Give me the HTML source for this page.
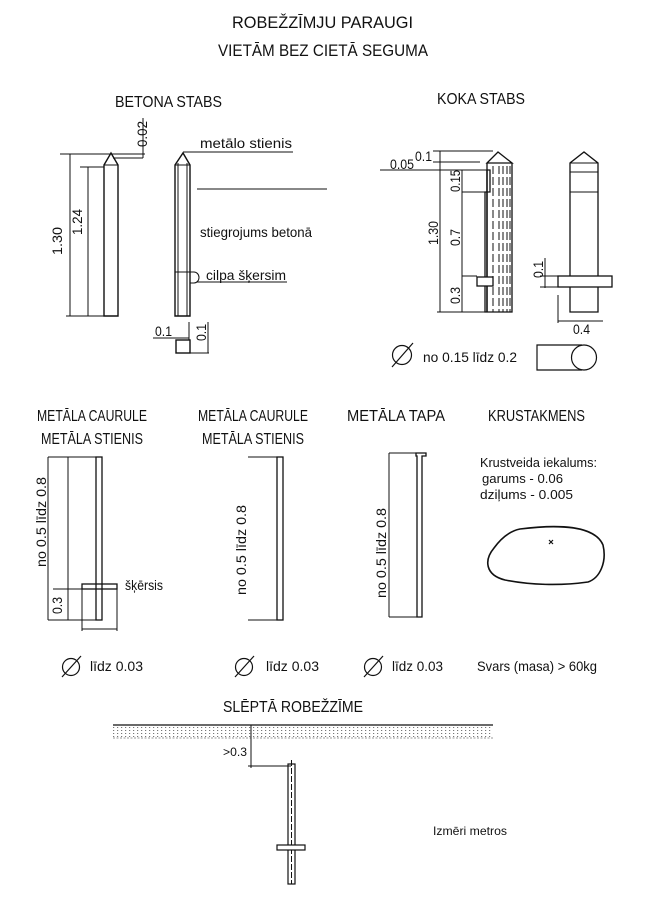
<!DOCTYPE html>
<html><head><meta charset="utf-8"><style>
html,body{margin:0;padding:0;background:#fff;}
svg{display:block;}
text{font-family:"Liberation Sans Narrow","Liberation Sans",sans-serif;fill:#111;}
</style></head><body>
<svg width="645" height="897" viewBox="0 0 645 897" xmlns="http://www.w3.org/2000/svg">
<defs>
<pattern id="dots" width="4" height="3" patternUnits="userSpaceOnUse"><rect x="1" y="1" width="1.2" height="1" fill="#777"/></pattern>
</defs>
<text x="232" y="28" font-size="17" textLength="181" lengthAdjust="spacingAndGlyphs">ROBEŽZĪMJU PARAUGI</text>
<text x="218" y="56" font-size="17" textLength="210" lengthAdjust="spacingAndGlyphs">VIETĀM BEZ CIETĀ SEGUMA</text>
<text x="115" y="107" font-size="16" textLength="107" lengthAdjust="spacingAndGlyphs">BETONA STABS</text>
<text x="437" y="104" font-size="16" textLength="88" lengthAdjust="spacingAndGlyphs">KOKA STABS</text>

<g stroke="#111" fill="none" stroke-width="1">
<path d="M104,316 L104,165 L111,153 L118,165 L118,316 Z" stroke-width="1.4"/>
<line x1="104" y1="165" x2="118" y2="165"/>
<line x1="60" y1="154" x2="145" y2="154"/>
<line x1="80" y1="167" x2="104" y2="167"/>
<line x1="113" y1="158" x2="143" y2="158"/>
<line x1="143" y1="118" x2="143" y2="158"/>
<line x1="70" y1="154" x2="70" y2="316"/>
<line x1="88" y1="167" x2="88" y2="316"/>
<line x1="66" y1="316" x2="104" y2="316"/>
<path d="M175,316 L175,165 L183,153 L190,165 L190,316 Z" stroke-width="1.4"/>
<line x1="178" y1="163" x2="178" y2="316"/>
<line x1="187" y1="163" x2="187" y2="316"/>
<line x1="175" y1="165" x2="190" y2="165"/>
<line x1="183" y1="152" x2="293" y2="152"/>
<line x1="197" y1="189" x2="327" y2="189"/>
<line x1="175" y1="272" x2="193" y2="272"/>
<path d="M190,272 L194,272 A5,5.5 0 0 1 194,283 L190,283"/>
<line x1="197" y1="282" x2="287" y2="282"/>
<rect x="176" y="340" width="14" height="13" stroke-width="1.4"/>
<line x1="153" y1="338" x2="189" y2="338"/>
<line x1="189" y1="322" x2="189" y2="340"/>
<line x1="190" y1="353" x2="209" y2="353"/>
<line x1="208" y1="322" x2="208" y2="353"/>

<path d="M487,163 L498,152 L512,163 Z" stroke-width="1.3"/>
<path d="M487,163 L487,170 L490,170 L490,192 L485,192 L485,312 L512,312 L512,163" stroke-width="1.3"/>
<line x1="487" y1="170" x2="487" y2="312" stroke-width="1.6"/>
<g stroke-dasharray="8,3">
<line x1="493" y1="166" x2="493" y2="312"/>
<line x1="499" y1="166" x2="499" y2="312"/>
<line x1="503" y1="166" x2="503" y2="312"/>
<line x1="507" y1="166" x2="507" y2="312"/>
<line x1="510" y1="166" x2="510" y2="312"/>
</g>
<rect x="477" y="277" width="16" height="9" fill="#fff" stroke-width="1.3"/>
<line x1="433" y1="151" x2="493" y2="151"/>
<line x1="440" y1="151" x2="440" y2="312"/>
<line x1="437" y1="312" x2="487" y2="312"/>
<line x1="433" y1="162" x2="480" y2="162"/>
<line x1="380" y1="170" x2="487" y2="170"/>
<line x1="462" y1="170" x2="462" y2="312"/>
<line x1="462" y1="192" x2="485" y2="192"/>
<line x1="462" y1="276" x2="477" y2="276"/>
<path d="M570,276 L570,163 L584,152 L598,163 L598,276" stroke-width="1.3"/>
<line x1="570" y1="163" x2="598" y2="163"/>
<line x1="570" y1="172" x2="598" y2="172"/>
<line x1="570" y1="192" x2="598" y2="192"/>
<rect x="558" y="276" width="54" height="11" stroke-width="1.3"/>
<path d="M570,287 L570,312 L598,312 L598,287" stroke-width="1.3"/>
<line x1="545" y1="258" x2="545" y2="288"/>
<line x1="540" y1="276" x2="558" y2="276"/>
<line x1="540" y1="287" x2="558" y2="287"/>
<line x1="558" y1="295" x2="558" y2="323"/>
<line x1="558" y1="321" x2="603" y2="321"/>
<circle cx="402" cy="355" r="9.5" stroke-width="1.2"/>
<line x1="392" y1="367" x2="413" y2="343" stroke-width="1.2"/>
<path d="M582,345 L537,345 L537,370 L582,370" stroke-width="1.2"/>
<circle cx="584" cy="357.5" r="12.5" stroke-width="1.2"/>

<rect x="96" y="457" width="6" height="163" stroke-width="1.3"/>
<line x1="48" y1="457" x2="48" y2="620"/>
<line x1="68" y1="457" x2="68" y2="620"/>
<line x1="48" y1="457" x2="96" y2="457"/>
<line x1="48" y1="620" x2="96" y2="620"/>
<rect x="82" y="584" width="35" height="5" stroke-width="1.3"/>
<line x1="53" y1="589" x2="82" y2="589"/>
<line x1="82" y1="589" x2="82" y2="631"/>
<line x1="117" y1="589" x2="117" y2="631"/>
<line x1="82" y1="629" x2="117" y2="629"/>
<circle cx="71" cy="667" r="8.5" stroke-width="1.2"/>
<line x1="62" y1="677" x2="81" y2="656" stroke-width="1.2"/>
<rect x="277" y="457" width="6" height="163" stroke-width="1.3"/>
<line x1="248" y1="457" x2="277" y2="457"/>
<line x1="248" y1="620" x2="277" y2="620"/>
<circle cx="244" cy="667" r="8.5" stroke-width="1.2"/>
<line x1="235" y1="677" x2="254" y2="656" stroke-width="1.2"/>
<path d="M417,617 L417,456 L416,456 L416,453 L426,453 L426,456 L422,456 L422,617 Z" stroke-width="1.3"/>
<line x1="389" y1="453" x2="389" y2="617"/>
<line x1="389" y1="453" x2="416" y2="453"/>
<line x1="389" y1="617" x2="417" y2="617"/>
<circle cx="373" cy="667" r="8.5" stroke-width="1.2"/>
<line x1="364" y1="677" x2="383" y2="656" stroke-width="1.2"/>
<path d="M520,529 C560,524 595,526 603,545 C607,562 600,578 588,582 C560,586 530,585 505,580 C485,575 484,560 494,548 C502,537 510,531 520,529 Z" stroke-width="1.6"/>
<path d="M549,540 L553,544 M553,540 L549,544" stroke-width="1.2"/>

<rect x="113" y="725" width="380" height="13" fill="url(#dots)" stroke="none"/>
<line x1="113" y1="725" x2="493" y2="725" stroke-width="1.3"/>
<line x1="113" y1="738" x2="493" y2="738" stroke-dasharray="2,1.5" stroke="#999"/>
<line x1="251" y1="725" x2="251" y2="768"/>
<line x1="248" y1="766" x2="291" y2="766"/>
<rect x="288" y="764" width="7" height="120" stroke-width="1.2"/>
<line x1="291.5" y1="760" x2="291.5" y2="884" stroke-dasharray="6,2"/>
<rect x="277" y="845" width="28" height="5" fill="#fff" stroke-width="1.2"/>
</g>

<text transform="translate(147,147) rotate(-90)" font-size="14" textLength="26" lengthAdjust="spacingAndGlyphs">0.02</text>
<text transform="translate(62,255) rotate(-90)" font-size="14" textLength="28" lengthAdjust="spacingAndGlyphs">1.30</text>
<text transform="translate(82,235) rotate(-90)" font-size="14" textLength="26" lengthAdjust="spacingAndGlyphs">1.24</text>
<text x="200" y="148" font-size="14" textLength="92" lengthAdjust="spacingAndGlyphs">metālo stienis</text>
<text x="200" y="237" font-size="14" textLength="112" lengthAdjust="spacingAndGlyphs">stiegrojums betonā</text>
<text x="206" y="280" font-size="14" textLength="80" lengthAdjust="spacingAndGlyphs">cilpa šķersim</text>
<text x="155" y="336" font-size="14" textLength="17" lengthAdjust="spacingAndGlyphs">0.1</text>
<text transform="translate(206,341) rotate(-90)" font-size="14" textLength="17" lengthAdjust="spacingAndGlyphs">0.1</text>

<text x="390" y="169" font-size="14" textLength="24" lengthAdjust="spacingAndGlyphs">0.05</text>
<text x="415" y="161" font-size="14" textLength="17" lengthAdjust="spacingAndGlyphs">0.1</text>
<text transform="translate(438,245) rotate(-90)" font-size="14" textLength="24" lengthAdjust="spacingAndGlyphs">1.30</text>
<text transform="translate(460,192) rotate(-90)" font-size="14" textLength="22" lengthAdjust="spacingAndGlyphs">0.15</text>
<text transform="translate(460,246) rotate(-90)" font-size="14" textLength="17" lengthAdjust="spacingAndGlyphs">0.7</text>
<text transform="translate(460,304) rotate(-90)" font-size="14" textLength="17" lengthAdjust="spacingAndGlyphs">0.3</text>
<text transform="translate(543,278) rotate(-90)" font-size="14" textLength="17" lengthAdjust="spacingAndGlyphs">0.1</text>
<text x="573" y="334" font-size="14" textLength="17" lengthAdjust="spacingAndGlyphs">0.4</text>
<text x="423" y="362" font-size="14" textLength="94" lengthAdjust="spacingAndGlyphs">no 0.15 līdz 0.2</text>

<text x="92" y="421" font-size="16" text-anchor="middle" textLength="110" lengthAdjust="spacingAndGlyphs">METĀLA CAURULE</text>
<text x="92" y="444" font-size="16" text-anchor="middle" textLength="102" lengthAdjust="spacingAndGlyphs">METĀLA STIENIS</text>
<text x="253" y="421" font-size="16" text-anchor="middle" textLength="110" lengthAdjust="spacingAndGlyphs">METĀLA CAURULE</text>
<text x="253" y="444" font-size="16" text-anchor="middle" textLength="102" lengthAdjust="spacingAndGlyphs">METĀLA STIENIS</text>
<text x="347" y="421" font-size="16" textLength="98" lengthAdjust="spacingAndGlyphs">METĀLA TAPA</text>
<text x="488" y="421" font-size="16" textLength="97" lengthAdjust="spacingAndGlyphs">KRUSTAKMENS</text>

<text transform="translate(46,567) rotate(-90)" font-size="14" textLength="90" lengthAdjust="spacingAndGlyphs">no 0.5 līdz 0.8</text>
<text transform="translate(246,595) rotate(-90)" font-size="14" textLength="90" lengthAdjust="spacingAndGlyphs">no 0.5 līdz 0.8</text>
<text transform="translate(386,598) rotate(-90)" font-size="14" textLength="90" lengthAdjust="spacingAndGlyphs">no 0.5 līdz 0.8</text>
<text transform="translate(62,614) rotate(-90)" font-size="14" textLength="17" lengthAdjust="spacingAndGlyphs">0.3</text>
<text x="125" y="590" font-size="14" textLength="38" lengthAdjust="spacingAndGlyphs">šķērsis</text>
<text x="90" y="671" font-size="14" textLength="53" lengthAdjust="spacingAndGlyphs">līdz 0.03</text>
<text x="266" y="671" font-size="14" textLength="53" lengthAdjust="spacingAndGlyphs">līdz 0.03</text>
<text x="392" y="671" font-size="14" textLength="51" lengthAdjust="spacingAndGlyphs">līdz 0.03</text>
<text x="480" y="467" font-size="13" textLength="117" lengthAdjust="spacingAndGlyphs">Krustveida iekalums:</text>
<text x="482" y="483" font-size="13" textLength="81" lengthAdjust="spacingAndGlyphs">garums - 0.06</text>
<text x="480" y="499" font-size="13" textLength="93" lengthAdjust="spacingAndGlyphs">dziļums - 0.005</text>
<text x="477" y="671" font-size="14" textLength="120" lengthAdjust="spacingAndGlyphs">Svars (masa) &gt; 60kg</text>

<text x="223" y="712" font-size="16" textLength="140" lengthAdjust="spacingAndGlyphs">SLĒPTĀ ROBEŽZĪME</text>
<text x="223" y="756" font-size="12" textLength="24" lengthAdjust="spacingAndGlyphs">&gt;0.3</text>
<text x="433" y="835" font-size="12" textLength="74" lengthAdjust="spacingAndGlyphs">Izmēri metros</text>
</svg>
</body></html>
